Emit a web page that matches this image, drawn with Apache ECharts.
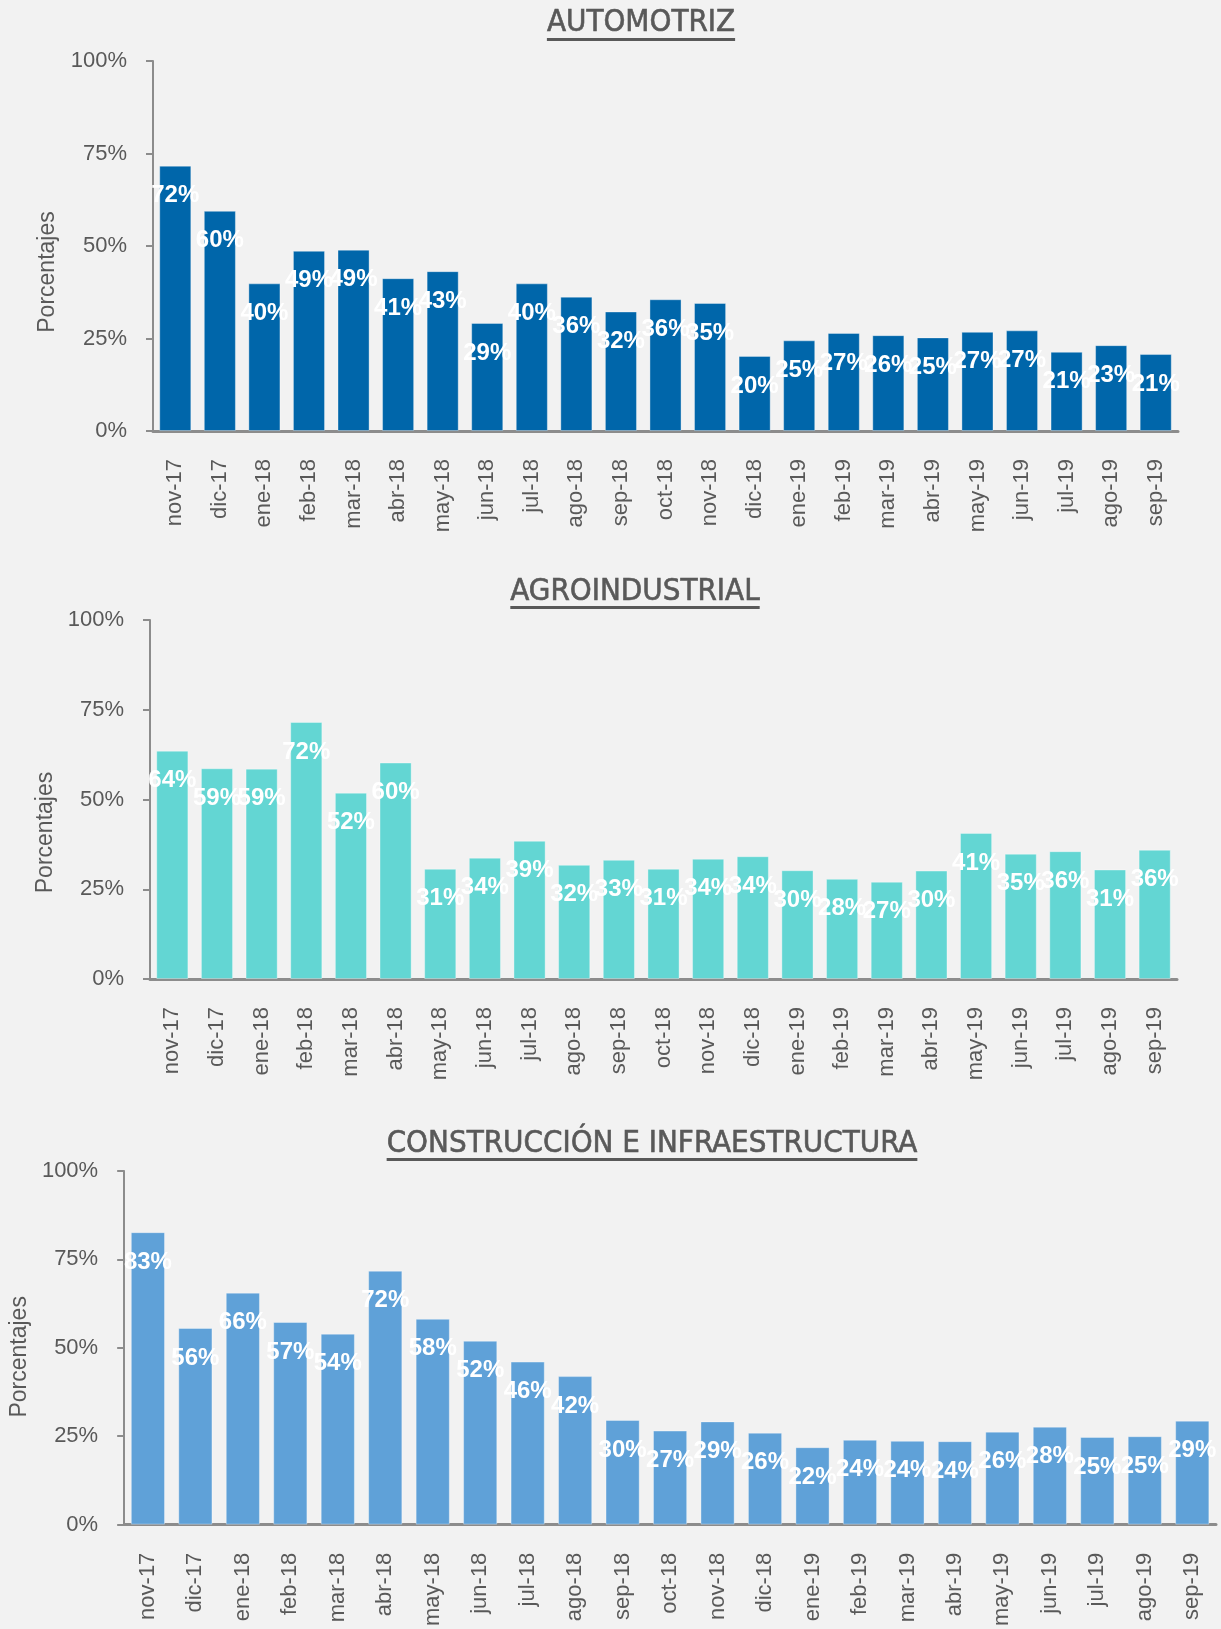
<!DOCTYPE html>
<html>
<head>
<meta charset="utf-8">
<script src="https://cdn.jsdelivr.net/npm/echarts@6/dist/echarts.min.js"></script>
<style>
html, body { margin: 0; padding: 0; background: #f2f2f2; }
#main { width: 1221px; height: 1629px; }
</style>
</head>
<body>
<div id="main"></div>
<script>
var meses = ['nov-17', 'dic-17', 'ene-18', 'feb-18', 'mar-18', 'abr-18', 'may-18', 'jun-18',
	'jul-18', 'ago-18', 'sep-18', 'oct-18', 'nov-18', 'dic-18', 'ene-19', 'feb-19', 'mar-19',
	'abr-19', 'may-19', 'jun-19', 'jul-19', 'ago-19', 'sep-19'];

var automotriz = [71.7, 59.5, 39.9, 48.7, 49.0, 41.3, 43.2, 29.2, 39.9, 36.3, 32.3, 35.6,
	34.6, 20.3, 24.5, 26.5, 25.9, 25.3, 26.8, 27.2, 21.4, 23.2, 20.8];

var agroindustrial = [63.6, 58.7, 58.6, 71.6, 51.9, 60.3, 30.7, 33.8, 38.5, 31.8, 33.2, 30.7,
	33.5, 34.2, 30.3, 27.9, 27.1, 30.2, 40.7, 34.9, 35.6, 30.5, 36.0];

var construccion = [82.7, 55.6, 65.6, 57.3, 54.0, 71.8, 58.2, 52.0, 46.1, 42.0, 29.6, 26.6,
	29.2, 26.0, 21.9, 24.0, 23.7, 23.6, 26.3, 27.7, 24.8, 25.0, 29.4];

var titulos = ['AUTOMOTRIZ', 'AGROINDUSTRIAL', 'CONSTRUCCIÓN E INFRAESTRUCTURA'];
var colores = ['#0066aa', '#63d6d3', '#5fa1d8'];
var series_datos = [automotriz, agroindustrial, construccion];

// layout of the three panels (px)
var grids = [
	{ left: 153, right: 43, top: 61, height: 370 },
	{ left: 150, right: 44, top: 620, height: 359 },
	{ left: 108, right: 5, top: 1171, height: 358 }
];
var titulosPos = [[641, 23, 38], [635, 592, 606], [652, 1144, 1158]];
var nameGaps = [94, 93, 73];
var nameOffset = [26, 33, 9];

var fuenteEje = "'Liberation Sans', Arial, sans-serif";
var fuenteTitulo = "31px 'DejaVu Sans Condensed', 'DejaVu Sans', sans-serif";

var ctx = document.createElement('canvas').getContext('2d');
ctx.font = fuenteTitulo;

var graphic = titulos.map(function (t, i) {
	var p = titulosPos[i];
	var w = ctx.measureText(t).width;
	return {
		type: 'group',
		children: [
			{
				type: 'text', x: p[0], y: p[1],
				style: { text: t, font: fuenteTitulo, fill: '#595959',
					stroke: '#595959', lineWidth: 0.6,
					align: 'center', verticalAlign: 'middle',
					textAlign: 'center', textVerticalAlign: 'middle' }
			},
			{
				type: 'rect',
				shape: { x: p[0] - w / 2, y: p[2], width: w, height: 3 },
				style: { fill: '#595959' }
			}
		]
	};
});

var option = {
	backgroundColor: '#f2f2f2',
	animation: false,
	graphic: graphic,
	grid: grids,
	xAxis: grids.map(function (g, i) {
		return {
			type: 'category',
			gridIndex: i,
			data: meses,
			axisLine: { lineStyle: { color: '#8c8c8c', width: 3 } },
			axisTick: { show: false },
			axisLabel: {
				rotate: 90, interval: 0, margin: 28,
				color: '#595959', fontSize: 22, fontFamily: fuenteEje
			}
		};
	}),
	yAxis: grids.map(function (g, i) {
		return {
			type: 'value',
			gridIndex: i,
			min: 0, max: 100, interval: 25,
			name: 'Porcentajes',
			nameLocation: 'middle',
			nameGap: nameGaps[i],
			nameTextStyle: {
				color: '#595959', fontSize: 23, fontFamily: fuenteEje,
				padding: [0, nameOffset[i] * 2, 0, 0]
			},
			axisLine: { show: true, lineStyle: { color: '#8c8c8c', width: 2 } },
			axisTick: { show: true, length: 7, lineStyle: { color: '#8c8c8c', width: 2 } },
			splitLine: { show: false },
			axisLabel: {
				formatter: '{value}%', margin: 26,
				color: '#595959', fontSize: 22, fontFamily: fuenteEje
			}
		};
	}),
	series: series_datos.map(function (d, i) {
		return {
			type: 'bar',
			xAxisIndex: i,
			yAxisIndex: i,
			data: d,
			barCategoryGap: '28%',
			itemStyle: { color: colores[i], borderColor: 'rgba(255,255,255,0.35)', borderWidth: 1 },
			label: {
				show: true,
				position: 'insideTop',
				distance: 18,
				color: '#ffffff',
				fontWeight: 'bold',
				fontSize: 24,
				fontFamily: fuenteEje,
				formatter: function (p) { return Math.round(p.value) + '%'; }
			}
		};
	})
};

var chart = echarts.init(document.getElementById('main'));
chart.setOption(option);
</script>
</body>
</html>
